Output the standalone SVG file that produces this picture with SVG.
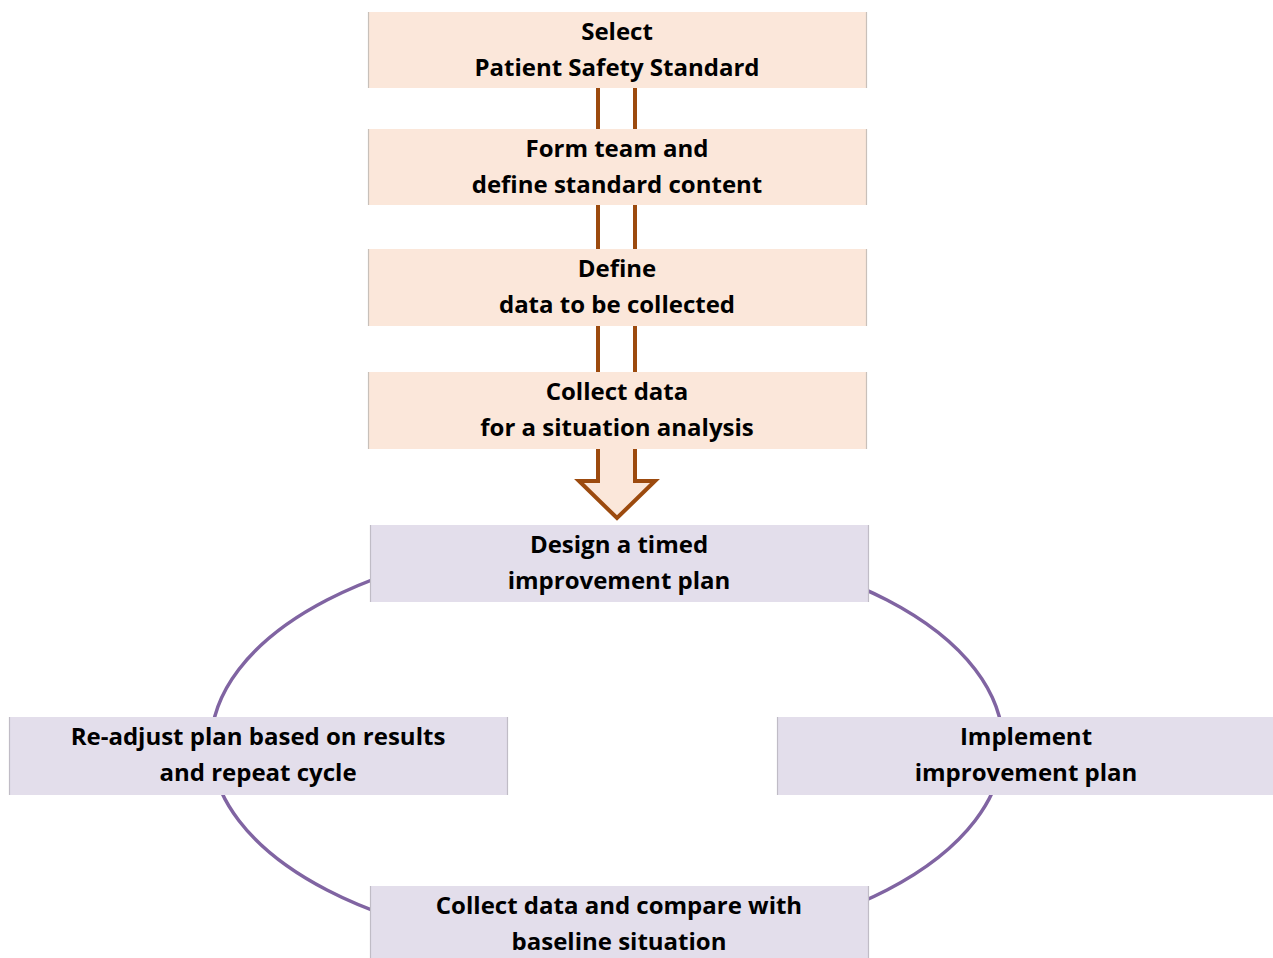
<svg xmlns="http://www.w3.org/2000/svg" width="1273" height="958" viewBox="0 0 1273 958">
<style>
.p{fill:#FBE7DA}
.u{fill:#E3DEEB}
.ps{stroke:#C8C0BA;stroke-width:1.2}
.us{stroke:#C0BCC6;stroke-width:1.2}
.t{font-family:"Open Sans","Liberation Sans",sans-serif;font-weight:bold;font-size:24px;fill:#000;text-anchor:middle}
.bar{stroke:#9C4A0E;stroke-width:4}
</style>
<rect width="1273" height="958" fill="#fff"/>
<g id="connectors">
<ellipse cx="607" cy="745" rx="396" ry="205" fill="none" stroke="#8064A2" stroke-width="3.5"/>
<line class="bar" x1="598" y1="88" x2="598" y2="129"/>
<line class="bar" x1="635" y1="88" x2="635" y2="129"/>
<line class="bar" x1="598" y1="205" x2="598" y2="249"/>
<line class="bar" x1="635" y1="205" x2="635" y2="249"/>
<line class="bar" x1="598" y1="326" x2="598" y2="372"/>
<line class="bar" x1="635" y1="326" x2="635" y2="372"/>
<path d="M598 449 V481 H579 L617 518 L655 481 H635 V449" fill="#FBE7DA" stroke="#9C4A0E" stroke-width="4" stroke-linejoin="miter"/>
</g>
<g id="n1"><rect class="p" x="368" y="12" width="498" height="76"/><path class="ps" d="M368.5 12V88M866.5 12V88"/><text class="t" x="617" y="40">Select</text><text class="t" x="617" y="76">Patient Safety Standard</text></g>
<g id="n2"><rect class="p" x="368" y="129" width="498" height="76"/><path class="ps" d="M368.5 129V205M866.5 129V205"/><text class="t" x="617" y="157">Form team and</text><text class="t" x="617" y="193">define standard content</text></g>
<g id="n3"><rect class="p" x="368" y="249" width="498" height="77"/><path class="ps" d="M368.5 249V326M866.5 249V326"/><text class="t" x="617" y="277">Define</text><text class="t" x="617" y="313">data to be collected</text></g>
<g id="n4"><rect class="p" x="368" y="372" width="498" height="77"/><path class="ps" d="M368.5 372V449M866.5 372V449"/><text class="t" x="617" y="400">Collect data</text><text class="t" x="617" y="436">for a situation analysis</text></g>
<g id="n5"><rect class="u" x="370" y="525" width="498" height="77"/><path class="us" d="M370.5 525V602M868.5 525V602"/><text class="t" x="619" y="553">Design a timed</text><text class="t" x="619" y="589">improvement plan</text></g>
<g id="n6"><rect class="u" x="9" y="717" width="498" height="78"/><path class="us" d="M9.5 717V795M507.5 717V795"/><text class="t" x="258" y="745">Re-adjust plan based on results</text><text class="t" x="258" y="781">and repeat cycle</text></g>
<g id="n7"><rect class="u" x="777" y="717" width="496" height="78"/><path class="us" d="M777.5 717V795"/><text class="t" x="1026" y="745">Implement</text><text class="t" x="1026" y="781">improvement plan</text></g>
<g id="n8"><rect class="u" x="370" y="886" width="498" height="80"/><path class="us" d="M370.5 886V958M868.5 886V958"/><text class="t" x="619" y="914">Collect data and compare with</text><text class="t" x="619" y="950">baseline situation</text></g>
</svg>
